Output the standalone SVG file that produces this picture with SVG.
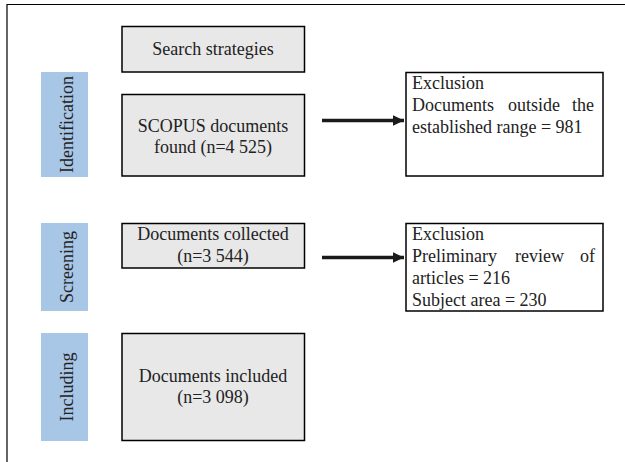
<svg xmlns="http://www.w3.org/2000/svg" width="625" height="462" viewBox="0 0 625 462">
<style>
.t{font-family:"Liberation Serif","Times New Roman",serif;font-size:18px;fill:#222}
.c{text-anchor:middle}
.box{fill:#e8e8e8;stroke:#000;stroke-width:1.5}
.ex{fill:#fff;stroke:#000;stroke-width:1.5}
.bar{fill:#a8c6e6}
.frame{stroke:#000;stroke-width:1.2;fill:none}
.arr{stroke:#1a1a1a;stroke-width:3.5;fill:none}
</style>
<defs>
<marker id="ah" markerWidth="4" markerHeight="4" refX="3.2" refY="2" orient="auto" markerUnits="strokeWidth">
<path d="M0,0.5 L3.2,2 L0,3.5 Z" fill="#1a1a1a"/>
</marker>
</defs>
<path class="frame" d="M7,462 V4.5 H625"/>
<g id="phase-identification">
<rect class="bar" x="41" y="72" width="47" height="105"/>
<text class="t c" transform="translate(73,124.5) rotate(-90)">Identification</text>
</g>
<g id="phase-screening">
<rect class="bar" x="41" y="223" width="47" height="88"/>
<text class="t c" transform="translate(73,267) rotate(-90)">Screening</text>
</g>
<g id="phase-including">
<rect class="bar" x="41" y="333" width="47" height="108"/>
<text class="t c" transform="translate(73,387) rotate(-90)">Including</text>
</g>
<g id="search">
<rect class="box" x="122" y="26.5" width="182.5" height="45.5"/>
<text class="t c" x="213" y="55">Search strategies</text>
</g>
<g id="scopus">
<rect class="box" x="122" y="94.5" width="182.5" height="81.5"/>
<text class="t c" x="213" y="131.5">SCOPUS documents</text>
<text class="t c" x="213" y="153">found (n=4 525)</text>
</g>
<g id="collected">
<rect class="box" x="122" y="223.5" width="182.5" height="44.5"/>
<text class="t c" x="213" y="240">Documents collected</text>
<text class="t c" x="213" y="261.5">(n=3 544)</text>
</g>
<g id="included">
<rect class="box" x="122" y="333.5" width="182.5" height="107"/>
<text class="t c" x="213" y="381.5">Documents included</text>
<text class="t c" x="213" y="403">(n=3 098)</text>
</g>
<g id="exclusion1">
<rect class="ex" x="406" y="72.5" width="197" height="103.5"/>
<text class="t" x="412" y="89">Exclusion</text>
<text class="t" y="111"><tspan x="412">Documents</tspan><tspan x="508">outside</tspan><tspan x="572">the</tspan></text>
<text class="t" x="412" y="132.5">established range = 981</text>
</g>
<g id="exclusion2">
<rect class="ex" x="406" y="223.5" width="197" height="87.5"/>
<text class="t" x="412" y="240">Exclusion</text>
<text class="t" y="262"><tspan x="412">Preliminary</tspan><tspan x="515">review</tspan><tspan x="580">of</tspan></text>
<text class="t" x="412" y="283.5">articles = 216</text>
<text class="t" x="412" y="305.5">Subject area = 230</text>
</g>
<g id="connectors">
<line class="arr" x1="322" y1="120.5" x2="404" y2="120.5" marker-end="url(#ah)"/>
<line class="arr" x1="322" y1="257.5" x2="404" y2="257.5" marker-end="url(#ah)"/>
</g>
</svg>
